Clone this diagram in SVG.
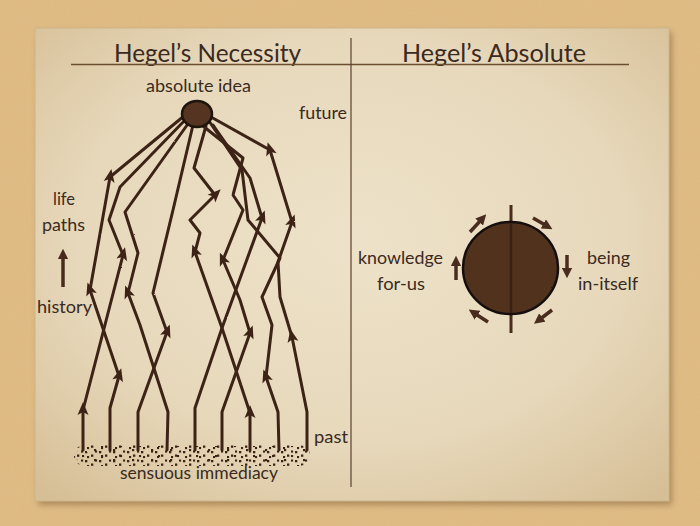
<svg xmlns="http://www.w3.org/2000/svg" xmlns:xlink="http://www.w3.org/1999/xlink" width="700" height="526" viewBox="0 0 700 526">
<defs>
  <style>
    .t { font-family: Lato, "Open Sans", "Liberation Sans", sans-serif; font-weight: 400; fill: #3a2a21; }
    .title { font-size: 25px; }
    .lab { font-size: 17px; }
    .net { fill: none; stroke: #3d2319; stroke-width: 3; stroke-linejoin: round; stroke-linecap: round; }
    .carr { fill: none; stroke: #4a2c1f; stroke-width: 3.5; stroke-linecap: butt; marker-end: url(#mh); }
  </style>
  <filter id="grain" x="0" y="0" width="100%" height="100%">
    <feTurbulence type="fractalNoise" baseFrequency="0.85" numOctaves="2" seed="4"/>
    <feColorMatrix type="matrix" values="0 0 0 0 0.6  0 0 0 0 0.45  0 0 0 0 0.25  1.5 0 0 0 -0.55"/>
  </filter>
  <filter id="rough" x="-5%" y="-5%" width="110%" height="110%">
    <feTurbulence type="fractalNoise" baseFrequency="0.7" numOctaves="1" seed="7" result="n"/>
    <feDisplacementMap in="SourceGraphic" in2="n" scale="1.6" xChannelSelector="R" yChannelSelector="G"/>
  </filter>
  <filter id="shadow" x="-5%" y="-5%" width="110%" height="110%">
    <feGaussianBlur stdDeviation="3"/>
  </filter>
  <radialGradient id="paper" cx="50%" cy="45%" r="72%">
    <stop offset="0" stop-color="#ede2c9"/>
    <stop offset="0.6" stop-color="#e7d8bb"/>
    <stop offset="1" stop-color="#d6bf96"/>
  </radialGradient>
  <pattern id="dotsA" width="14" height="9" patternUnits="userSpaceOnUse">
    <rect x="1" y="1" width="2.3" height="2.3" fill="#3d2319"/>
    <rect x="7" y="4.5" width="2.3" height="2.3" fill="#3d2319"/>
    <rect x="11" y="0.5" width="2.1" height="2.1" fill="#3d2319"/>
    <rect x="3" y="6" width="2.1" height="2.1" fill="#3d2319"/>
  </pattern>
  <pattern id="dotsB" width="19" height="10" patternUnits="userSpaceOnUse" x="4" y="2">
    <rect x="2" y="3" width="2.1" height="2.1" fill="#3d2319"/>
    <rect x="14" y="7" width="2.2" height="2.2" fill="#3d2319"/>
  </pattern>
  <path id="ah" d="M0,-8 L5.5,5 L0,2 L-5.5,5 Z" fill="#3d2319"/>
  <marker id="mh" viewBox="0 0 10 10" refX="4" refY="5" markerWidth="3" markerHeight="3" orient="auto" markerUnits="strokeWidth">
    <path d="M0,0 L10,5 L0,10 Z" fill="#4a2c1f"/>
  </marker>
</defs>

<!-- background -->
<rect width="700" height="526" fill="#e0bc84"/>
<rect width="700" height="526" fill="#000" filter="url(#grain)" opacity="0.3"/>
<rect x="38" y="32" width="634" height="473" fill="#7a5a30" opacity="0.5" filter="url(#shadow)"/>
<rect x="35" y="28" width="634" height="473" fill="url(#paper)" stroke="#cdb68c" stroke-width="1"/>

<!-- headings -->
<g id="headings">
  <text class="t title" x="114" y="62" textLength="187" lengthAdjust="spacingAndGlyphs">Hegel’s Necessity</text>
  <text class="t title" x="402" y="62" textLength="184" lengthAdjust="spacingAndGlyphs">Hegel’s Absolute</text>
  <line x1="71" y1="64.5" x2="629" y2="64.5" stroke="#6b4e2e" stroke-width="1.5"/>
  <line x1="351" y1="38" x2="351" y2="487" stroke="#5a4030" stroke-width="1.2"/>
</g>

<!-- labels -->
<g id="labels">
  <text class="t lab" x="146" y="92" textLength="105" lengthAdjust="spacingAndGlyphs">absolute idea</text>
  <text class="t lab" x="299" y="119" textLength="48" lengthAdjust="spacingAndGlyphs">future</text>
  <text class="t lab" x="53" y="205" textLength="22" lengthAdjust="spacingAndGlyphs">life</text>
  <text class="t lab" x="42" y="231" textLength="43" lengthAdjust="spacingAndGlyphs">paths</text>
  <text class="t lab" x="37" y="313" textLength="55" lengthAdjust="spacingAndGlyphs">history</text>
  <text class="t lab" x="314" y="443" textLength="34" lengthAdjust="spacingAndGlyphs">past</text>
  <text class="t lab" x="120" y="479" textLength="158" lengthAdjust="spacingAndGlyphs">sensuous immediacy</text>
  <text class="t lab" x="358" y="264" textLength="85" lengthAdjust="spacingAndGlyphs">knowledge</text>
  <text class="t lab" x="377" y="290" textLength="48" lengthAdjust="spacingAndGlyphs">for-us</text>
  <text class="t lab" x="587" y="264" textLength="43" lengthAdjust="spacingAndGlyphs">being</text>
  <text class="t lab" x="578" y="290" textLength="60" lengthAdjust="spacingAndGlyphs">in-itself</text>
</g>

<!-- sensuous immediacy bed -->
<g id="sensuous-immediacy" filter="url(#rough)">
  <rect x="74" y="445" width="236" height="21" rx="10" fill="url(#dotsA)"/>
  <rect x="76" y="446" width="232" height="19" rx="9" fill="url(#dotsB)"/>
</g>

<!-- connectors: life paths -->
<g id="connectors" filter="url(#rough)">
  <polyline class="net" points="83,450 83,410 123,255 109,220 120,187 187,118"/>
  <polyline class="net" points="110,450 110,408 119,376 90,290 110,177 184,116"/>
  <polyline class="net" points="138,450 138,412 167,332 153,293 173,210 193,125"/>
  <polyline class="net" points="167,450 168,412 140,325 128,293 138,253 125,212 190,121"/>
  <polyline class="net" points="195,450 195,408 222,328 262,218 250,178 213,125"/>
  <polyline class="net" points="222,450 222,412 250,333 240,300 223,260 243,210 233,195 243,158 203,126"/>
  <polyline class="net" points="250,450 250,413 222,328 195,252 200,233 190,220 215,195 194,168 206,126"/>
  <polyline class="net" points="279,450 278,412 266,377 272,325 262,297 280,258 248,220 242,170 209,121"/>
  <polyline class="net" points="307,450 307,412 292,337 280,297 278,262 292,222 270,150 211,117"/>
  <use href="#ah" transform="translate(83,410)"/>
  <use href="#ah" transform="translate(123,255) rotate(14.5)"/>
  <use href="#ah" transform="translate(119,376) rotate(15.7)"/>
  <use href="#ah" transform="translate(90,290) rotate(-18.6)"/>
  <use href="#ah" transform="translate(110,177) rotate(10)"/>
  <use href="#ah" transform="translate(167,332) rotate(19.9)"/>
  <use href="#ah" transform="translate(128,293) rotate(-20.6)"/>
  <use href="#ah" transform="translate(262,218) rotate(20)"/>
  <use href="#ah" transform="translate(250,413)"/>
  <use href="#ah" transform="translate(195,252) rotate(-19.6)"/>
  <use href="#ah" transform="translate(215,195) rotate(45)"/>
  <use href="#ah" transform="translate(250,333) rotate(19.5)"/>
  <use href="#ah" transform="translate(223,260) rotate(-23)"/>
  <use href="#ah" transform="translate(266,377) rotate(-19)"/>
  <use href="#ah" transform="translate(292,337) rotate(-11.3)"/>
  <use href="#ah" transform="translate(292,222) rotate(19.3)"/>
  <use href="#ah" transform="translate(270,150) rotate(-17)"/>
  <line class="carr" x1="63" y1="287" x2="63" y2="255"/>
</g>

<!-- absolute idea node -->
<g id="absolute-idea" filter="url(#rough)">
  <ellipse cx="197" cy="114" rx="15" ry="13" fill="#543523" stroke="#1e120c" stroke-width="2.5"/>
</g>

<!-- Hegel's Absolute circle -->
<g id="absolute-circle">
  <line x1="511" y1="205" x2="511" y2="333" stroke="#4a2c1f" stroke-width="3"/>
  <ellipse cx="510.5" cy="268" rx="47.5" ry="46" fill="#51331f" stroke="#161010" stroke-width="2.5" filter="url(#rough)"/>
  <line x1="511" y1="223" x2="511" y2="313" stroke="#3a2015" stroke-width="2.5"/>
</g>

<g id="cycle-arrows">
  <line class="carr" x1="470" y1="232" x2="482" y2="219"/>
  <line class="carr" x1="533" y1="218" x2="547" y2="226"/>
  <line class="carr" x1="567" y1="255" x2="567" y2="272"/>
  <line class="carr" x1="552" y1="310" x2="539" y2="320"/>
  <line class="carr" x1="488" y1="322" x2="474" y2="313"/>
  <line class="carr" x1="456" y1="280" x2="456" y2="262"/>
</g>
</svg>
